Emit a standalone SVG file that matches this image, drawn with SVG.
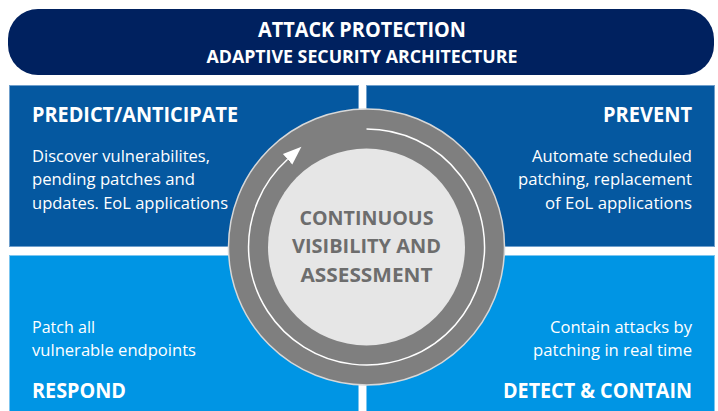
<svg xmlns="http://www.w3.org/2000/svg" width="718" height="411" viewBox="0 0 718 411">
  <style>
    .banner { fill: #00215F; }
    .top { fill: #0558A0; stroke: #6f9fcc; stroke-width: 1; }
    .bottom { fill: #0095E4; stroke: #7cc6f0; stroke-width: 1; }
    .t { font-family: "Open Sans", "Noto Sans", "Liberation Sans", sans-serif; fill: #ffffff; }
    .h { font-weight: 700; font-size: 20.5px; }
    .b { font-weight: 400; font-size: 16.8px; }
    .bt { font-weight: 700; text-anchor: middle; }
    .c { font-family: "Open Sans", "Noto Sans", "Liberation Sans", sans-serif; font-weight: 700; font-size: 19px; fill: #6d6d6d; text-anchor: middle; }
    .end { text-anchor: end; }
  </style>
  <defs>
    <marker id="arrow" markerUnits="userSpaceOnUse" markerWidth="20" markerHeight="16" viewBox="0 -8 20 16" refX="0" refY="0" orient="auto">
      <path d="M0,-7 L18.6,0 L0,7 Z" fill="#ffffff"/>
    </marker>
  </defs>

  <rect width="718" height="411" fill="#ffffff"/>

  <g id="banner">
    <rect class="banner" x="8" y="9" width="706" height="66" rx="30" ry="30"/>
    <text class="t bt" x="362" y="37" font-size="21.5" textLength="208" lengthAdjust="spacingAndGlyphs">ATTACK PROTECTION</text>
    <text class="t bt" x="362" y="63" font-size="18.5" textLength="311" lengthAdjust="spacingAndGlyphs">ADAPTIVE SECURITY ARCHITECTURE</text>
  </g>

  <g id="predict">
    <rect class="top" x="9.5" y="85.5" width="349" height="161"/>
    <text class="t h" x="32" y="122" textLength="206" lengthAdjust="spacingAndGlyphs">PREDICT/ANTICIPATE</text>
    <text class="t b" x="32" y="162" textLength="178" lengthAdjust="spacingAndGlyphs">Discover vulnerabilites,</text>
    <text class="t b" x="32" y="185" textLength="163" lengthAdjust="spacingAndGlyphs">pending patches and</text>
    <text class="t b" x="32" y="209" textLength="196" lengthAdjust="spacingAndGlyphs">updates. EoL applications</text>
  </g>

  <g id="prevent">
    <rect class="top" x="366.5" y="85.5" width="348" height="161"/>
    <text class="t h end" x="692" y="122" textLength="89" lengthAdjust="spacingAndGlyphs">PREVENT</text>
    <text class="t b end" x="692" y="162" textLength="160" lengthAdjust="spacingAndGlyphs">Automate scheduled</text>
    <text class="t b end" x="692" y="185" textLength="174" lengthAdjust="spacingAndGlyphs">patching, replacement</text>
    <text class="t b end" x="692" y="209" textLength="147" lengthAdjust="spacingAndGlyphs">of EoL applications</text>
  </g>

  <g id="respond">
    <rect class="bottom" x="9.5" y="255.5" width="349" height="160"/>
    <text class="t b" x="32" y="333" textLength="63" lengthAdjust="spacingAndGlyphs">Patch all</text>
    <text class="t b" x="32" y="356" textLength="164" lengthAdjust="spacingAndGlyphs">vulnerable endpoints</text>
    <text class="t h" x="32" y="398" textLength="94" lengthAdjust="spacingAndGlyphs">RESPOND</text>
  </g>

  <g id="detect">
    <rect class="bottom" x="366.5" y="255.5" width="348" height="160"/>
    <text class="t b end" x="692" y="333" textLength="142" lengthAdjust="spacingAndGlyphs">Contain attacks by</text>
    <text class="t b end" x="692" y="356" textLength="159" lengthAdjust="spacingAndGlyphs">patching in real time</text>
    <text class="t h end" x="692" y="398" textLength="189" lengthAdjust="spacingAndGlyphs">DETECT &amp; CONTAIN</text>
  </g>

  <g id="assessment">
    <circle cx="366.5" cy="247" r="138" fill="#7f7f7f" stroke="#d8d8d8" stroke-width="1.5"/>
    <circle cx="366.5" cy="247" r="98.5" fill="#e6e6e6"/>
    <text class="c" x="366.5" y="225" textLength="134" lengthAdjust="spacingAndGlyphs">CONTINUOUS</text>
    <text class="c" x="366.5" y="253" textLength="149" lengthAdjust="spacingAndGlyphs">VISIBILITY AND</text>
    <text class="c" x="366.5" y="282" textLength="132" lengthAdjust="spacingAndGlyphs">ASSESSMENT</text>
  </g>

  <g id="connectors">
    <path d="M366.5,129 A118,118 0 1 1 287.6,159.3" fill="none" stroke="#ffffff" stroke-width="1.5" marker-end="url(#arrow)"/>
  </g>
</svg>
